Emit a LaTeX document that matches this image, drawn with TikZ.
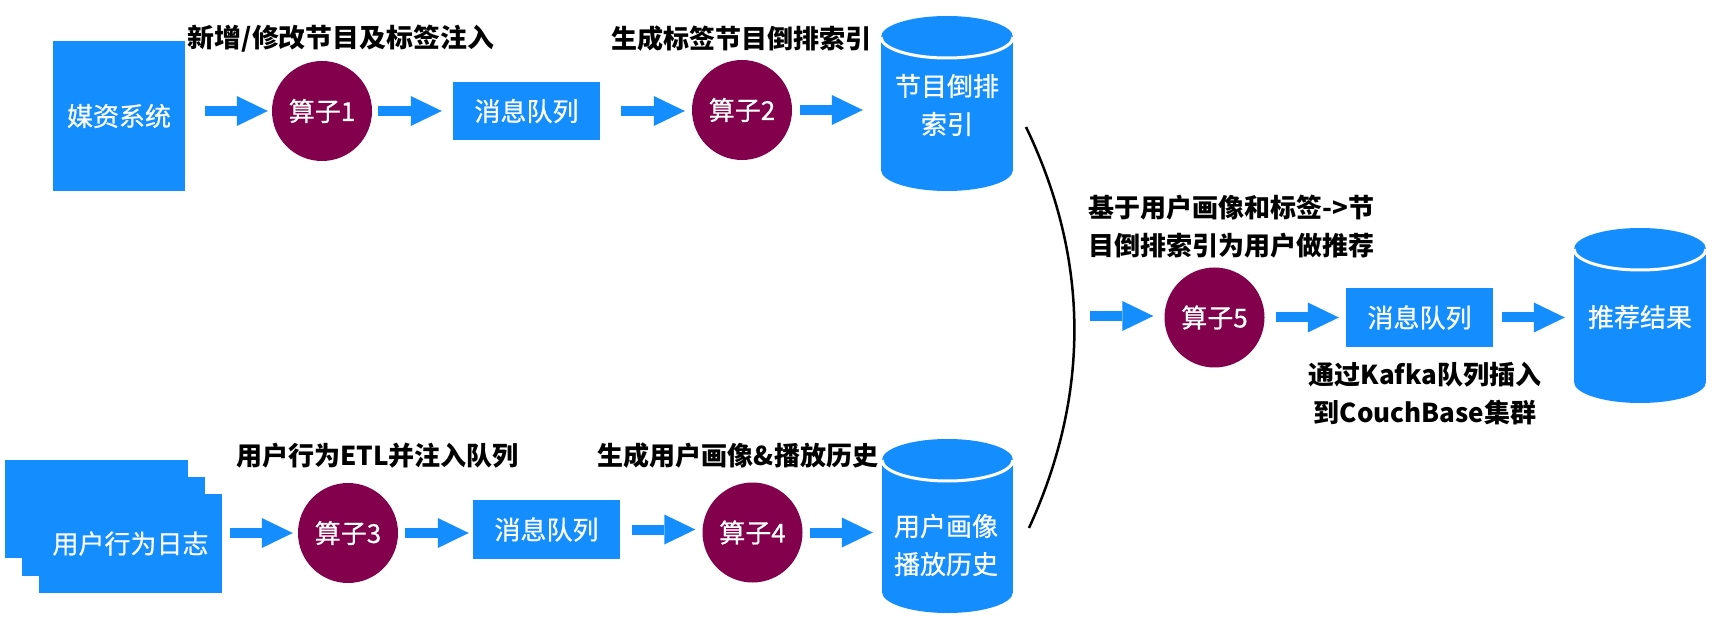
\documentclass[tikz,border=0pt]{standalone}
\usepackage{fontspec}
\setmainfont{Noto Sans CJK SC}
\newfontfamily\nodefont{Noto Sans CJK SC}[FakeBold=0.6]
\usetikzlibrary{arrows.meta,calc}
\definecolor{dbblue}{RGB}{20,142,255}
\definecolor{opred}{RGB}{130,0,76}
\tikzset{
  box/.style={fill=dbblue, inner sep=0pt, text=white, font=\nodefont\fontsize{26}{38}\selectfont, align=center},
  opnode/.style={circle, fill=opred, minimum size=100pt, inner sep=0pt, text=white, font=\nodefont\fontsize{26}{38}\selectfont},
  lbl/.style={inner sep=0pt, font=\bfseries\fontsize{26}{38}\selectfont},
  dbtext/.style={inner sep=0pt, text=white, font=\nodefont\fontsize{26}{38}\selectfont, align=center},
  flow/.style={draw=dbblue, line width=10pt, -{Triangle[length=31pt 0 0, width=30pt 0 0, line width=0pt]}},
  link/.style={draw=black, line width=2.5pt},
}
\newcommand\dbcyl[6]{%
  \fill[dbblue] (#2,#3+#6) ellipse[x radius=#5pt, y radius=#6pt];
  \fill[dbblue] (#2-#5,#3+#6) rectangle (#2+#5,#4-#6);
  \fill[dbblue] (#2,#4-#6) ellipse[x radius=#5pt, y radius=#6pt];
  \draw[white, line width=3pt] (#2-#5,#3+#6) arc[start angle=180, end angle=360, x radius=#5pt, y radius=#6pt];
  \node[inner sep=0pt, minimum width=2*#5 pt, minimum height=#4-#3 pt] (#1) at (#2,{(#3+#4)/2}) {};
}
\begin{document}
\begin{tikzpicture}[x=1pt, y=-1pt]
\useasboundingbox (0,0) rectangle (1714,628);
\fill[white] (0,0) rectangle (1714,628);

% top row
\node[box, minimum width=132pt, minimum height=150pt] (ms) at (119,116) {媒资系统};
\node[opnode] (op1) at (322,111) {算子1};
\node[box, minimum width=147pt, minimum height=58pt] (mq1) at (526.5,111) {消息队列};
\node[opnode] (op2) at (742,110) {算子2};
\dbcyl{cyl1}{947}{16}{191}{66}{21}
\node[dbtext] (cyl1t) at (947,105) {节目倒排\\索引};
\node[lbl] (l1) at (341,39) {\resizebox{306pt}{\height}{新增/修改节目及标签注入}};
\node[lbl] (l2) at (741,38.5) {生成标签节目倒排索引};

% bottom row
\node[box, minimum width=183pt, minimum height=98.5pt] (stack1) at (96.5,509) {};
\node[box, minimum width=183pt, minimum height=98.5pt] (stack2) at (113.5,526.5) {};
\node[box, minimum width=183pt, minimum height=98.5pt] (log) at (130.5,543.5) {用户行为日志};
\node[opnode] (op3) at (348,533) {算子3};
\node[box, minimum width=147pt, minimum height=59pt] (mq2) at (546.5,529.5) {消息队列};
\node[opnode] (op4) at (752.5,532.5) {算子4};
\dbcyl{cyl2}{947.5}{439}{613}{65.5}{21}
\node[dbtext] (cyl2t) at (946,545) {用户画像\\播放历史};
\node[lbl] (l3) at (377.5,456) {用户行为ETL并注入队列};
\node[lbl] (l4) at (738,456) {生成用户画像\&播放历史};

% right part
\coordinate (c1) at (1026,127);
\coordinate (c2) at (1029,528);
\draw[link] (c1) .. controls (1090,260) and (1090,395) .. (c2);
\node[lbl, anchor=west, align=left] (l5) at (1088,227) {基于用户画像和标签->节\\目倒排索引为用户做推荐};
\node[opnode] (op5) at (1214.5,317.5) {算子5};
\node[box, minimum width=147pt, minimum height=59pt] (mq3) at (1419.5,317.5) {消息队列};
\dbcyl{cyl3}{1640}{228}{403}{66}{21}
\node[dbtext] (cyl3t) at (1640,317) {推荐结果};
\node[lbl, align=center] (l6) at (1425,393.5) {通过Kafka队列插入\\到CouchBase集群};
\coordinate (a9s) at (1090,316);

% arrows
\draw[flow] ([xshift=20pt]ms.east |- op1.west) -- ([xshift=-4pt]op1.west);
\draw[flow] ([xshift=6pt]op1.east) -- ([xshift=-11pt]mq1.west);
\draw[flow] ([xshift=21pt]mq1.east) -- ([xshift=-7pt]mq1.east -| op2.west);
\draw[flow] ([xshift=8pt]op2.east) -- ([xshift=-18pt]op2.east -| cyl1.west);
\draw[flow] ([xshift=8pt]log.east |- op3.west) -- ([xshift=-5pt]op3.west);
\draw[flow] ([xshift=7pt]op3.east) -- ([xshift=-4pt]op3.east -| mq2.west);
\draw[flow] ([xshift=12pt]mq2.east) -- ([xshift=-7pt]mq2.east -| op4.west);
\draw[flow] ([xshift=7pt]op4.east) -- ([xshift=-9pt]op4.east -| cyl2.west);
\draw[flow] (a9s) -- ([xshift=-11pt]a9s -| op5.west);
\draw[flow] ([xshift=11pt]op5.east) -- ([xshift=-7pt]mq3.west);
\draw[flow] ([xshift=9pt]mq3.east) -- ([xshift=-9pt]mq3.east -| cyl3.west);
\end{tikzpicture}
\end{document}
